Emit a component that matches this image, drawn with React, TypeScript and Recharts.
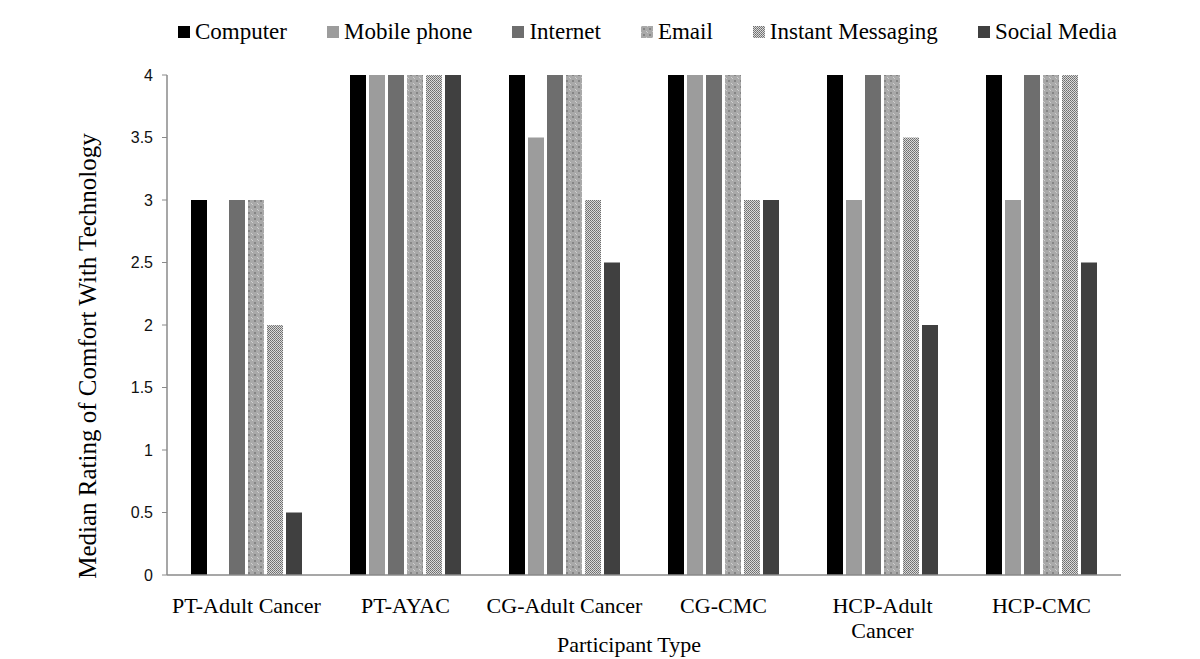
import { Bar, BarChart, XAxis, YAxis, Legend } from "recharts";

const categories = ["PT-Adult Cancer", "PT-AYAC", "CG-Adult Cancer", "CG-CMC", "HCP-Adult Cancer", "HCP-CMC"];
const computer = [3, 4, 4, 4, 4, 4];
const mobilePhone = [0, 4, 3.5, 4, 3, 3];
const internet = [3, 4, 4, 4, 4, 4];
const email = [3, 4, 4, 4, 4, 4];
const instantMessaging = [2, 4, 3, 3, 3.5, 4];
const socialMedia = [0.5, 4, 2.5, 3, 2, 2.5];
const yTicks = [0, 0.5, 1, 1.5, 2, 2.5, 3, 3.5, 4];

const series = [
  { key: "computer", name: "Computer", values: computer, fill: "#000000" },
  { key: "mobile", name: "Mobile phone", values: mobilePhone, fill: "#9c9c9c" },
  { key: "internet", name: "Internet", values: internet, fill: "#6e6e6e" },
  { key: "email", name: "Email", values: email, fill: "url(#emailPattern)" },
  { key: "im", name: "Instant Messaging", values: instantMessaging, fill: "url(#imPattern)" },
  { key: "social", name: "Social Media", values: socialMedia, fill: "#404040" },
];

const data = categories.map((cat, i) => {
  const row: Record<string, string | number> = { category: cat };
  series.forEach((s) => {
    row[s.key] = s.values[i];
  });
  return row;
});

const serif = "'Liberation Serif', 'Times New Roman', serif";
const sans = "'Liberation Sans', Arial, sans-serif";
const axisGrey = "#8a8a8a";

const Patterns = () => (
  <svg width={0} height={0} style={{ position: "absolute" }}>
    <defs>
      <pattern id="emailPattern" width={6} height={6} patternUnits="userSpaceOnUse">
        <rect width={6} height={6} fill="#a9a9a9" />
        <rect x={2} y={2} width={2} height={2} fill="#858585" />
        <rect x={0} y={0} width={1} height={1} fill="#cfcfcf" />
        <rect x={5} y={5} width={1} height={1} fill="#cfcfcf" />
      </pattern>
      <pattern id="imPattern" width={2} height={2} patternUnits="userSpaceOnUse">
        <rect width={2} height={2} fill="#dadada" />
        <rect x={0} y={0} width={1} height={1} fill="#6c6c6c" />
        <rect x={1} y={1} width={1} height={1} fill="#7e7e7e" />
      </pattern>
    </defs>
  </svg>
);

// long labels wrap onto two lines, like the original
const CategoryTick = (props: any) => {
  const { x, y, payload } = props;
  const label: string = payload.value;
  let lines = [label];
  if (label.length > 15) {
    const cut = label.lastIndexOf(" ");
    lines = [label.slice(0, cut), label.slice(cut + 1)];
  }
  return (
    <text x={x} y={y + 30} textAnchor="middle" style={{ fontFamily: serif, fontSize: 22, fill: "#000" }}>
      {lines.map((l, i) => (
        <tspan key={i} x={x} dy={i === 0 ? 0 : 25}>
          {l}
        </tspan>
      ))}
    </text>
  );
};

const LegendContent = () => (
  <div style={{ display: "flex", alignItems: "center", marginLeft: 178, fontFamily: serif, fontSize: 23, color: "#000" }}>
    {series.map((s) => (
      <div key={s.key} style={{ display: "flex", alignItems: "center", marginRight: 40 }}>
        <svg width={12} height={12} style={{ marginRight: 5 }}>
          <rect width={12} height={12} fill={s.fill} />
        </svg>
        <span>{s.name}</span>
      </div>
    ))}
  </div>
);

export default function App() {
  return (
    <div style={{ position: "relative", width: 1200, height: 659, background: "#fff" }}>
      <style>{"body{margin:0}"}</style>
      <Patterns />
      <BarChart
        width={1200}
        height={659}
        data={data}
        margin={{ top: 49, right: 79, bottom: 54, left: 97 }}
        barCategoryGap={24}
        barGap={3}
      >
        <Legend
          verticalAlign="top"
          content={<LegendContent />}
          wrapperStyle={{ top: 19, left: 0, width: 1200 }}
        />
        <XAxis
          dataKey="category"
          tickLine={false}
          axisLine={{ stroke: axisGrey, strokeWidth: 1.5 }}
          tick={<CategoryTick />}
          interval={0}
          label={{
            content: () => (
              <text x={629} y={652} textAnchor="middle" style={{ fontFamily: serif, fontSize: 22, fill: "#000" }}>
                Participant Type
              </text>
            ),
          }}
        />
        <YAxis
          width={70}
          domain={[0, 4]}
          ticks={yTicks}
          interval={0}
          tickSize={5}
          tickMargin={9}
          tickLine={{ stroke: axisGrey }}
          axisLine={{ stroke: axisGrey, strokeWidth: 1.5 }}
          tick={{ fontFamily: sans, fontSize: 16, fill: "#111" }}
          label={{
            content: () => (
              <text
                x={96}
                y={356}
                textAnchor="middle"
                transform="rotate(-90 96 356)"
                style={{ fontFamily: serif, fontSize: 25, fill: "#000" }}
              >
                Median Rating of Comfort With Technology
              </text>
            ),
          }}
        />
        {series.map((s) => (
          <Bar key={s.key} dataKey={s.key} name={s.name} fill={s.fill} isAnimationActive={false} />
        ))}
      </BarChart>
    </div>
  );
}
